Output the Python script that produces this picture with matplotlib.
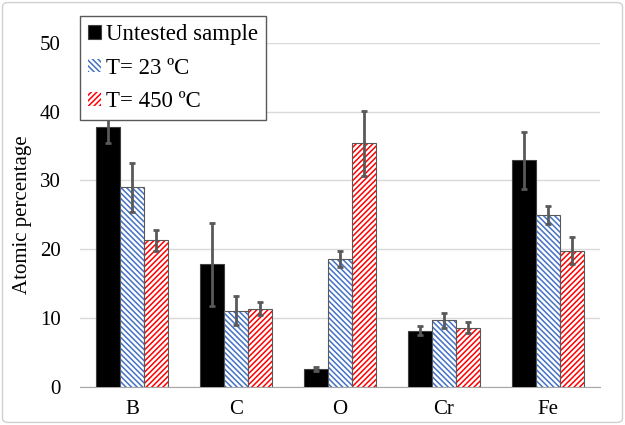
import matplotlib
matplotlib.use("Agg")
import matplotlib.pyplot as plt
import numpy as np
from matplotlib.patches import FancyBboxPatch

plt.rcParams['font.family'] = ['Liberation Serif', 'DejaVu Serif']
plt.rcParams['hatch.linewidth'] = 1.1

# data
elements = ["B", "C", "O", "Cr", "Fe"]
untested = [37.7, 17.8, 2.6, 8.2, 32.9]
untested_err = [2.3, 6.0, 0.3, 0.6, 4.1]
t23 = [29.0, 11.1, 18.6, 9.7, 25.0]
t23_err = [3.6, 2.1, 1.2, 1.1, 1.3]
t450 = [21.3, 11.4, 35.4, 8.6, 19.8]
t450_err = [1.5, 1.0, 4.7, 0.8, 2.0]
labels = ["Untested sample", "T= 23 ºC", "T= 450 ºC"]

fig = plt.figure(figsize=(6.25, 4.25), dpi=100)
ax = fig.add_axes([0.128, 0.0894, 0.832, 0.81])

x = np.arange(len(elements))
w = 0.23
err_kw = dict(ecolor="#595959", elinewidth=2, capsize=2.5, capthick=2)

ax.bar(x - w, untested, w, color="black", edgecolor="#404040", linewidth=0.8,
       label=labels[0], zorder=3)
ax.errorbar(x - w, untested, yerr=untested_err, fmt="none", zorder=5, **err_kw)

ax.bar(x, t23, w, color="white", edgecolor="#4472c4", linewidth=0, hatch="\\" * 6,
       label=labels[1], zorder=3)
ax.bar(x, t23, w, fill=False, edgecolor="#595959", linewidth=0.8, zorder=4)
ax.errorbar(x, t23, yerr=t23_err, fmt="none", zorder=5, **err_kw)

ax.bar(x + w, t450, w, color="white", edgecolor="#ff0000", linewidth=0, hatch="/" * 6,
       label=labels[2], zorder=3)
ax.bar(x + w, t450, w, fill=False, edgecolor="#595959", linewidth=0.8, zorder=4)
ax.errorbar(x + w, t450, yerr=t450_err, fmt="none", zorder=5, **err_kw)

ax.set_xlim(-0.5, 4.5)
ax.set_ylim(0, 50)
ax.set_yticks(range(0, 51, 10))
ax.set_xticks(x)
ax.set_xticklabels(elements)
ax.tick_params(length=0, labelsize=15, colors="black")
ax.tick_params(axis="x", pad=9)
ax.tick_params(axis="y", pad=14)
ax.yaxis.grid(True, color="#d9d9d9", linewidth=1)
ax.set_axisbelow(True)
for s in ["top", "right", "left"]:
    ax.spines[s].set_visible(False)
ax.spines["bottom"].set_color("#a6a6a6")
ax.set_ylabel("Atomic percentage", fontsize=15)
ax.yaxis.set_label_coords(-0.092, 0.5)

leg = ax.legend(loc="upper left", bbox_to_anchor=(80 / 625, 1 - 16 / 425),
                bbox_transform=fig.transFigure, fontsize=16.5, frameon=True,
                fancybox=False, edgecolor="#595959", framealpha=1,
                handlelength=0.55, handleheight=0.55, handletextpad=0.25,
                borderpad=0.35, labelspacing=0.55, borderaxespad=0)
leg.get_frame().set_linewidth(1)

border = FancyBboxPatch((0.004, 0.006), 0.992, 0.988, transform=fig.transFigure,
                        boxstyle="round,pad=0,rounding_size=0.01",
                        facecolor="none", edgecolor="#d0d0d0", linewidth=1)
fig.patches.append(border)

fig.savefig("out.png", dpi=100)
